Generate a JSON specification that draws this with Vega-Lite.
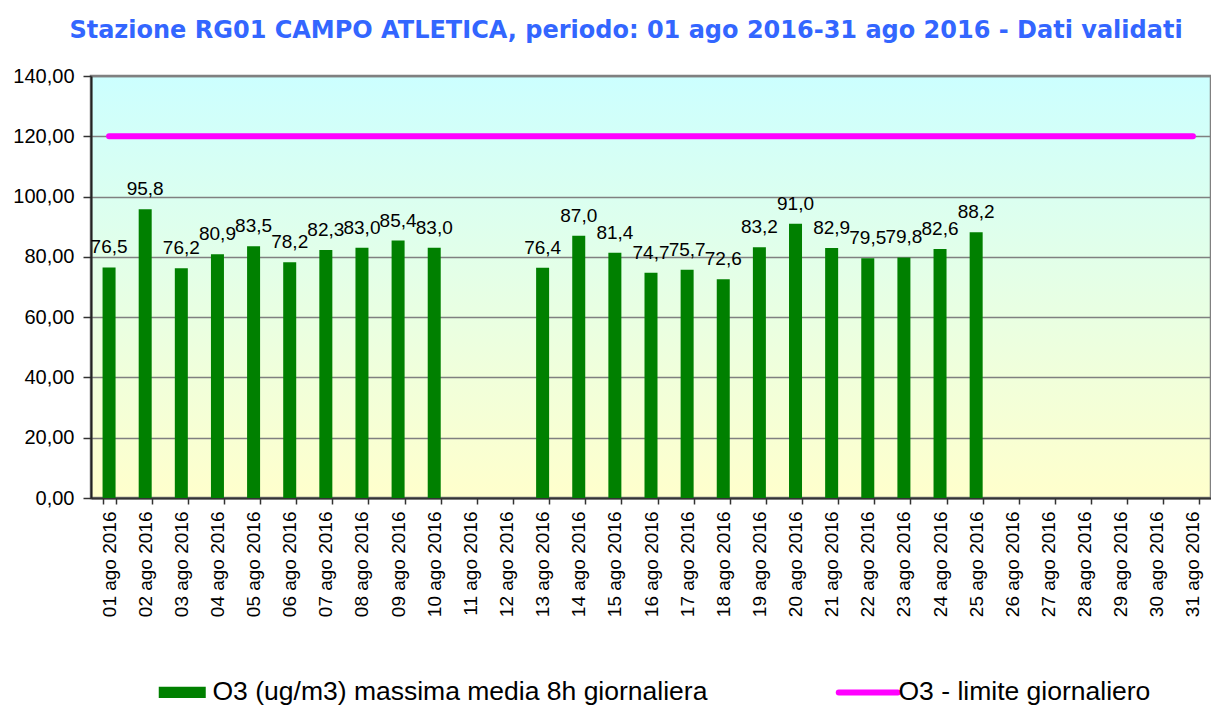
{
  "$schema": "https://vega.github.io/schema/vega-lite/v6.json",
  "autosize": {"type": "none"},
  "padding": {"left": 91, "top": 76, "right": 0, "bottom": 209},
  "width": 1120,
  "height": 422,
  "background": "white",
  "title": {
    "text": "Stazione RG01 CAMPO ATLETICA, periodo: 01 ago 2016-31 ago 2016 - Dati validati",
    "font": "DejaVu Sans",
    "fontSize": 24,
    "fontWeight": "bold",
    "color": "#3366FF",
    "anchor": "middle",
    "frame": "group",
    "dx": -25,
    "offset": 23
  },
  "config": {
    "locale": {"number": {"decimal": ",", "thousands": ".", "grouping": [3], "currency": ["", " €"]}},
    "view": {
      "fill": {"gradient": "linear", "x1": 0, "y1": 0, "x2": 0, "y2": 1, "stops": [{"offset": 0, "color": "#CCFFFF"}, {"offset": 1, "color": "#FFFFCC"}]},
      "stroke": "#808080",
      "strokeWidth": 2.5
    },
    "axis": {"labelFont": "Liberation Sans", "labelColor": "#000000"}
  },
  "data": {
    "values": [
      {"giorno": "01 ago 2016", "o3": 76.5, "limite": 120},
      {"giorno": "02 ago 2016", "o3": 95.8, "limite": 120},
      {"giorno": "03 ago 2016", "o3": 76.2, "limite": 120},
      {"giorno": "04 ago 2016", "o3": 80.9, "limite": 120},
      {"giorno": "05 ago 2016", "o3": 83.5, "limite": 120},
      {"giorno": "06 ago 2016", "o3": 78.2, "limite": 120},
      {"giorno": "07 ago 2016", "o3": 82.3, "limite": 120},
      {"giorno": "08 ago 2016", "o3": 83.0, "limite": 120},
      {"giorno": "09 ago 2016", "o3": 85.4, "limite": 120},
      {"giorno": "10 ago 2016", "o3": 83.0, "limite": 120},
      {"giorno": "11 ago 2016", "o3": null, "limite": 120},
      {"giorno": "12 ago 2016", "o3": null, "limite": 120},
      {"giorno": "13 ago 2016", "o3": 76.4, "limite": 120},
      {"giorno": "14 ago 2016", "o3": 87.0, "limite": 120},
      {"giorno": "15 ago 2016", "o3": 81.4, "limite": 120},
      {"giorno": "16 ago 2016", "o3": 74.7, "limite": 120},
      {"giorno": "17 ago 2016", "o3": 75.7, "limite": 120},
      {"giorno": "18 ago 2016", "o3": 72.6, "limite": 120},
      {"giorno": "19 ago 2016", "o3": 83.2, "limite": 120},
      {"giorno": "20 ago 2016", "o3": 91.0, "limite": 120},
      {"giorno": "21 ago 2016", "o3": 82.9, "limite": 120},
      {"giorno": "22 ago 2016", "o3": 79.5, "limite": 120},
      {"giorno": "23 ago 2016", "o3": 79.8, "limite": 120},
      {"giorno": "24 ago 2016", "o3": 82.6, "limite": 120},
      {"giorno": "25 ago 2016", "o3": 88.2, "limite": 120},
      {"giorno": "26 ago 2016", "o3": null, "limite": 120},
      {"giorno": "27 ago 2016", "o3": null, "limite": 120},
      {"giorno": "28 ago 2016", "o3": null, "limite": 120},
      {"giorno": "29 ago 2016", "o3": null, "limite": 120},
      {"giorno": "30 ago 2016", "o3": null, "limite": 120},
      {"giorno": "31 ago 2016", "o3": null, "limite": 120}
    ]
  },
  "encoding": {
    "x": {
      "field": "giorno",
      "type": "ordinal",
      "sort": null,
      "scale": {
        "domain": ["01 ago 2016", "02 ago 2016", "03 ago 2016", "04 ago 2016", "05 ago 2016", "06 ago 2016", "07 ago 2016", "08 ago 2016", "09 ago 2016", "10 ago 2016", "11 ago 2016", "12 ago 2016", "13 ago 2016", "14 ago 2016", "15 ago 2016", "16 ago 2016", "17 ago 2016", "18 ago 2016", "19 ago 2016", "20 ago 2016", "21 ago 2016", "22 ago 2016", "23 ago 2016", "24 ago 2016", "25 ago 2016", "26 ago 2016", "27 ago 2016", "28 ago 2016", "29 ago 2016", "30 ago 2016", "31 ago 2016"],
        "paddingInner": 0.64,
        "paddingOuter": 0.32
      },
      "axis": {
        "title": null,
        "labelAngle": -90,
        "labelFontSize": 19,
        "labelPadding": 7,
        "tickBand": "extent",
        "tickSize": 6,
        "tickColor": "#333333",
        "tickWidth": 1.5,
        "domainColor": "#333333",
        "domainWidth": 2,
        "grid": false
      }
    }
  },
  "layer": [
    {
      "mark": {"type": "bar"},
      "encoding": {
        "y": {
          "field": "o3",
          "type": "quantitative",
          "scale": {"domain": [0, 140], "nice": false},
          "axis": {
            "title": null,
            "values": [0, 20, 40, 60, 80, 100, 120, 140],
            "format": ".2f",
            "labelFontSize": 20,
            "labelPadding": 9,
            "tickSize": 8,
            "tickColor": "#333333",
            "tickWidth": 1.5,
            "domainColor": "#222222",
            "domainWidth": 2,
            "grid": true,
            "gridColor": "#808080",
            "gridWidth": 1.3
          }
        },
        "color": {
          "datum": "O3 (ug/m3) massima media 8h giornaliera",
          "type": "nominal",
          "scale": {
            "domain": ["O3 (ug/m3) massima media 8h giornaliera", "O3 - limite giornaliero"],
            "range": ["#008000", "#FF00FF"]
          },
          "legend": {
            "title": null,
            "orient": "none",
            "direction": "horizontal",
            "legendX": 78,
            "legendY": 603,
            "labelFont": "Liberation Sans",
            "labelFontSize": 26.5,
            "labelColor": "#000000",
            "labelLimit": 900,
            "labelOffset": 1,
            "symbolSize": 3481,
            "columnPadding": 118,
            "encode": {
              "labels": {"update": {"dx": {"value": 16}}},
              "symbols": {
                "update": {
                  "shape": {"signal": "datum.value === 'O3 - limite giornaliero' ? 'M-1,0H1' : 'M-1,-0.24H1V0.24H-1Z'"},
                  "size": {"signal": "datum.value === 'O3 - limite giornaliero' ? 3481 : 2209"},
                  "fill": {"signal": "datum.value === 'O3 - limite giornaliero' ? 'transparent' : '#008000'"},
                  "stroke": {"signal": "datum.value === 'O3 - limite giornaliero' ? '#FF00FF' : 'transparent'"},
                  "strokeWidth": {"signal": "datum.value === 'O3 - limite giornaliero' ? 6 : 0"},
                  "strokeCap": {"value": "round"},
                  "opacity": {"value": 1}
                }
              }
            }
          }
        }
      }
    },
    {
      "mark": {"type": "line", "strokeWidth": 6, "strokeCap": "round"},
      "encoding": {
        "y": {"field": "limite", "type": "quantitative"},
        "color": {"datum": "O3 - limite giornaliero", "type": "nominal"}
      }
    },
    {
      "mark": {"type": "text", "font": "Liberation Sans", "fontSize": 19, "color": "#000000", "baseline": "alphabetic", "dy": -14},
      "encoding": {
        "y": {"field": "o3", "type": "quantitative"},
        "text": {"field": "o3", "type": "quantitative", "format": ".1f"}
      }
    }
  ]
}
